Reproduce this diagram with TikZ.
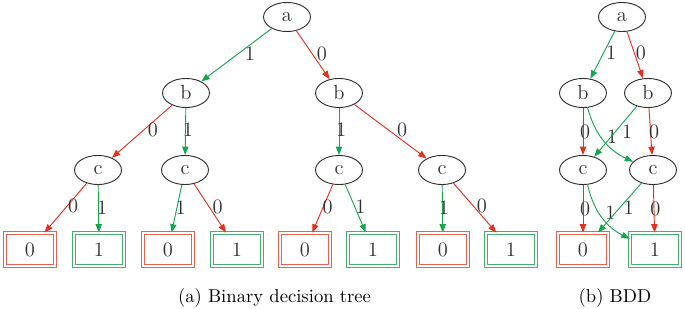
\documentclass[tikz,border=0pt]{standalone}
\usetikzlibrary{arrows.meta,positioning,shapes.geometric}
\definecolor{ink}{RGB}{45,45,45}
\definecolor{zero}{RGB}{228,48,32}
\definecolor{one}{RGB}{24,165,80}
\definecolor{zerobox}{RGB}{226,100,80}
\definecolor{onebox}{RGB}{70,175,110}
\tikzset{
  var/.style={ellipse,draw=ink,line width=0.5pt,minimum width=25.2pt,minimum height=15.6pt,inner sep=0pt,
    text=ink,font=\fontsize{11}{13}\selectfont},
  leaf/.style={rectangle,draw=#1,line width=0.5pt,double=white,double distance=1.2pt,
    minimum width=26.8pt,minimum height=17.7pt,inner sep=0pt,text=ink,font=\fontsize{11}{13}\selectfont},
  arc/.style={#1,line width=0.5pt,-{Triangle[length=4.5pt,width=3.4pt]}},
  lbl/.style={inner sep=0pt,text=ink,font=\fontsize{11}{13}\selectfont}
}

\begin{document}
\begin{tikzpicture}[x=0.537pt,y=-0.537pt]
    \useasboundingbox (0,0) rectangle (685,309);
    % (a) binary decision tree
    \node[var] (a) at (287,17) {a};
    \node[var] (b1) at (186,93) {b};
    \node[var] (b2) at (339,93) {b};
    \foreach \n/\x in {c1/98,c2/185,c3/339,c4/442}
      \node[var] (\n) at (\x,170) {c};
    \foreach \n/\x/\v/\c in {t1/30/0/zerobox,t2/99/1/onebox,t3/168/0/zerobox,t4/237/1/onebox,
      t5/305/0/zerobox,t6/373/1/onebox,t7/443/0/zerobox,t8/511/1/onebox}
      \node[leaf=\c] (\n) at (\x,249.5) {\v};
    \foreach \s/\t/\c/\v/\d in {
      a/b1/one/1/7.2, a/b2/zero/0/4.8,
      b1/c1/zero/0/5.9, b1/c2/one/1/1.3,
      b2/c3/one/1/1.1, b2/c4/zero/0/6.2,
      c1/t1/zero/0/4.1, c1/t2/one/1/1.9,
      c2/t3/one/1/2.1, c2/t4/zero/0/4.1,
      c3/t5/zero/0/2.7, c3/t6/one/1/2.7,
      c4/t7/one/1/0.8, c4/t8/zero/0/3.8}
      \draw[arc=\c] (\s) -- node[lbl,xshift=\d pt,yshift=0.8pt] {\v} (\t);
    \node (capa) at (274.5,298) {(a) Binary decision tree};
    % (b) BDD
    \node[var] (A) at (622,17) {a};
    \node[var] (B1) at (583,93) {b};
    \node[var] (B2) at (648,93) {b};
    \node[var] (C1) at (583,170) {c};
    \node[var] (C2) at (653,170) {c};
    \node[leaf=zerobox] (Z) at (583,249.5) {0};
    \node[leaf=onebox] (O) at (655,249.5) {1};
    \foreach \s/\t/\c/\v/\b/\dx/\dy in {
      A/B1/one/1/0/4.6/1, A/B2/zero/0/0/3.2/1,
      B1/C1/zero/0/0/1.1/0, B1/C2/one/1/25/4.6/2.1,
      B2/C1/one/1/0/6.2/0, B2/C2/zero/0/0/1.9/0,
      C1/Z/zero/0/0/1.1/0, C1/O/one/1/25/4.6/2.1,
      C2/Z/one/1/0/4.8/0, C2/O/zero/0/0/0.8/0}
      \draw[arc=\c] (\s) to[bend right=\b] node[lbl,xshift=\dx pt,yshift=\dy pt] {\v} (\t);
    \node (capb) at (615,298) {(b) BDD};
\end{tikzpicture}
\end{document}
